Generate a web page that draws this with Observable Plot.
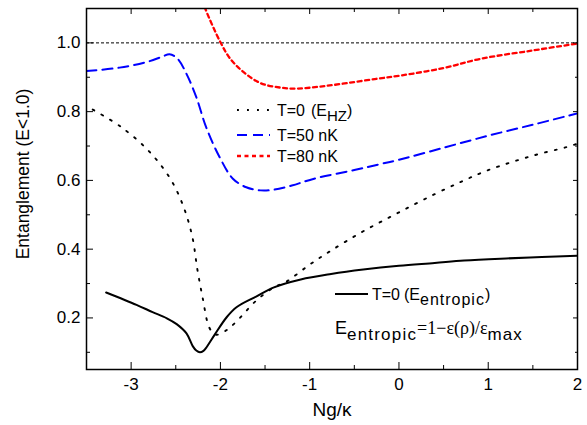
<!DOCTYPE html>
<html>
<head>
<meta charset="utf-8">
<script src="https://cdn.jsdelivr.net/npm/d3@7"></script>
<script src="https://cdn.jsdelivr.net/npm/@observablehq/plot@0.6"></script>
<style>
  html, body { margin: 0; padding: 0; background: white; }
  svg { display: block; }
</style>
</head>
<body>
<div id="chart"></div>
<script>
// ---- data ----
const xTicks = [-3, -2, -1, 0, 1, 2];
const xMinorTicks = [-2.5, -1.5, -0.5, 0.5, 1.5];
const yTicks = [0.2, 0.4, 0.6, 0.8, 1.0];
const yMinorTicks = [0.1, 0.3, 0.5, 0.7, 0.9];

// T=0 (E_entropic) solid
const entX = [-3.28, -2.94, -2.76, -2.6, -2.49, -2.38, -2.31, -2.27, -2.23, -2.19, -2.16, -2.06, -1.93, -1.82, -1.6, -1.4, -1.1, -0.76, -0.4, 0, 0.4, 0.73, 1.2, 1.6, 2.0];
const entY = [0.274, 0.238, 0.217, 0.199, 0.182, 0.155, 0.118, 0.105, 0.100, 0.104, 0.113, 0.153, 0.202, 0.231, 0.262, 0.289, 0.312, 0.328, 0.341, 0.352, 0.360, 0.367, 0.373, 0.377, 0.381];

// T=0 (E_HZ) dotted
const hzX = [-3.43, -3.11, -2.79, -2.55, -2.40, -2.31, -2.26, -2.20, -2.13, -2.08, -2.04, -1.94, -1.83, -1.6, -1.4, -1.27, -1.0, -0.76, -0.4, 0, 0.4, 0.73, 1.0, 1.5, 1.88, 2.0];
const hzY = [0.806, 0.755, 0.682, 0.600, 0.514, 0.430, 0.344, 0.260, 0.175, 0.156, 0.151, 0.163, 0.187, 0.250, 0.289, 0.304, 0.355, 0.396, 0.452, 0.507, 0.560, 0.600, 0.630, 0.672, 0.697, 0.707];

// T=50 nK blue dashed
const t50X = [-3.5, -3.13, -2.83, -2.65, -2.57, -2.48, -2.38, -2.27, -2.16, -2.01, -1.86, -1.71, -1.55, -1.4, -1.2, -0.95, -0.5, -0.2, 0, 0.5, 1.0, 1.5, 1.91, 2.0];
const t50Y = [0.918, 0.928, 0.944, 0.960, 0.967, 0.954, 0.910, 0.842, 0.755, 0.668, 0.605, 0.580, 0.571, 0.573, 0.585, 0.605, 0.630, 0.648, 0.660, 0.695, 0.730, 0.762, 0.789, 0.795];

// T=80 nK red short-dashed
const t80X = [-2.2, -2.17, -2.0, -1.89, -1.74, -1.55, -1.33, -1.14, -0.88, -0.58, -0.24, 0.02, 0.5, 0.92, 1.5, 2.0];
const t80Y = [1.125, 1.10, 1.002, 0.954, 0.915, 0.883, 0.870, 0.867, 0.873, 0.883, 0.896, 0.905, 0.927, 0.954, 0.978, 0.998];

const refLine = [1.0];

const toRows = (xs, ys) => xs.map((x, i) => ({x, y: ys[i]}));

const font = "'Liberation Sans', Arial, sans-serif";
const serif = "'Liberation Serif', 'Times New Roman', serif";
const fmtX = d => String(d);
const fmtY = d3.format(".1f");

const chart = Plot.plot({
  width: 587,
  height: 425,
  marginLeft: 86,
  marginRight: 10,
  marginTop: 8,
  marginBottom: 56,
  x: {domain: [-3.5, 2]},
  y: {domain: [0.05, 1.1]},
  style: {fontFamily: font, fontSize: "17px", color: "black", background: "white"},
  marks: [
    Plot.ruleY(refLine, {stroke: "black", strokeWidth: 1, strokeDasharray: "3,2"}),
    Plot.line(toRows(hzX, hzY), {x: "x", y: "y", curve: "catmull-rom", stroke: "black", strokeWidth: 1.9, strokeDasharray: "1.9,8.1", clip: true}),
    Plot.line(toRows(t50X, t50Y), {x: "x", y: "y", curve: "catmull-rom", stroke: "#0000ff", strokeWidth: 2, strokeDasharray: "10,6", clip: true}),
    Plot.line(toRows(t80X, t80Y), {x: "x", y: "y", curve: "catmull-rom", stroke: "#ff0000", strokeWidth: 2.3, strokeDasharray: "4,3.5", clip: true}),
    Plot.line(toRows(entX, entY), {x: "x", y: "y", curve: "catmull-rom", stroke: "black", strokeWidth: 2, clip: true}),
    Plot.frame({stroke: "black", strokeWidth: 1.5}),
    // bottom axis
    Plot.axisX(xTicks, {anchor: "bottom", tickSize: -7, tickPadding: 15, tickFormat: fmtX, label: null, fontSize: 17}),
    Plot.axisX(xMinorTicks, {anchor: "bottom", tickSize: -4, tickFormat: () => "", label: null}),
    // top axis (ticks only)
    Plot.axisX(xTicks, {anchor: "top", tickSize: -5, tickFormat: () => "", label: null}),
    Plot.axisX(xMinorTicks, {anchor: "top", tickSize: -3, tickFormat: () => "", label: null}),
    // left axis
    Plot.axisY(yTicks, {anchor: "left", tickSize: -7, tickPadding: 13, tickFormat: fmtY, label: null, fontSize: 17}),
    Plot.axisY(yMinorTicks, {anchor: "left", tickSize: -4, tickFormat: () => "", label: null}),
    // right axis (ticks only)
    Plot.axisY(yTicks, {anchor: "right", tickSize: -5, tickFormat: () => "", label: null}),
    Plot.axisY(yMinorTicks, {anchor: "right", tickSize: -3, tickFormat: () => "", label: null}),
    // axis titles
    Plot.text(["Entanglement (E<1.0)"], {frameAnchor: "left", textAnchor: "middle", rotate: -90, dx: -63, dy: -15, fontSize: 17.5}),
    Plot.text(["Ng/κ"], {frameAnchor: "bottom", textAnchor: "middle", dy: 40, fontSize: 19, lineAnchor: "middle"})
  ]
});

document.getElementById("chart").appendChild(chart);

// ---- legend (drawn into the same SVG) ----
const svg = d3.select(chart);
const lg = svg.append("g").attr("font-family", font).attr("fill", "black").attr("text-anchor", "start");

const legendRows = [
  {y: 110, stroke: "black", width: 1.9, dash: "1.9,8.1", label: "T=0", sub: "HZ"},
  {y: 135, stroke: "#0000ff", width: 2, dash: "10,6", label: "T=50 nK"},
  {y: 156, stroke: "#ff0000", width: 2.3, dash: "4,3.5", label: "T=80 nK"}
];
legendRows.forEach(r => {
  lg.append("line").attr("x1", 237).attr("x2", 270).attr("y1", r.y).attr("y2", r.y)
    .attr("stroke", r.stroke).attr("stroke-width", r.width).attr("stroke-dasharray", r.dash);
  const t = lg.append("text").attr("x", 277).attr("y", r.y + 5.5).attr("font-size", 16);
  t.append("tspan").text(r.label);
  if (r.sub) {
    t.append("tspan").attr("x", 311).text("(E");
    t.append("tspan").attr("dy", 5).attr("font-size", 15).text(r.sub);
    t.append("tspan").attr("dy", -5).text(")");
  }
});

// solid legend
lg.append("line").attr("x1", 335).attr("x2", 368).attr("y1", 294).attr("y2", 294)
  .attr("stroke", "black").attr("stroke-width", 2);
const t4 = lg.append("text").attr("x", 372).attr("y", 300).attr("font-size", 16);
t4.append("tspan").text("T=0");
t4.append("tspan").attr("x", 404).text("(E");
t4.append("tspan").attr("dy", 5).attr("font-size", 16).attr("letter-spacing", 1).text("entropic");
t4.append("tspan").attr("dy", -5).attr("letter-spacing", 0).text(")");

// formula
const t5 = lg.append("text").attr("x", 335).attr("y", 334).attr("font-size", 18);
t5.append("tspan").text("E");
t5.append("tspan").attr("dy", 6).attr("font-size", 17).attr("letter-spacing", 1.2).text("entropic");
t5.append("tspan").attr("dy", -6).attr("font-size", 18).attr("letter-spacing", 0).attr("font-family", serif).text("=1−ε(ρ)/ε");
t5.append("tspan").attr("dy", 6).attr("font-size", 17).attr("letter-spacing", 1).text("max");
</script>
</body>
</html>
